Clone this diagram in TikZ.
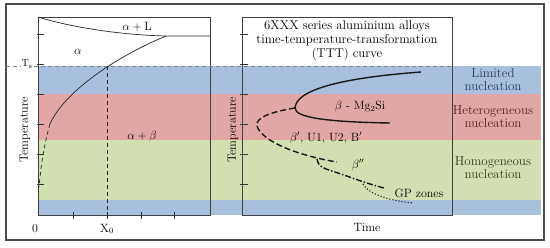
\documentclass[tikz,border=0pt]{standalone}
\usepackage{amsmath,amssymb}
\usetikzlibrary{positioning}

\definecolor{bandblue}{RGB}{168,192,222}
\definecolor{bandred}{RGB}{227,166,167}
\definecolor{bandgreen}{RGB}{210,224,177}
\definecolor{txtblue}{RGB}{40,58,92}
\definecolor{txtred}{RGB}{92,30,30}
\definecolor{txtgreen}{RGB}{58,58,28}

\begin{document}
\begin{tikzpicture}[
  x=1pt, y=-1pt,
  lbl/.style={font=\fontsize{12}{14}\selectfont, inner sep=1pt, text centered},
  zone/.style={font=\fontsize{13}{13}\selectfont, align=center, inner sep=1pt},
  ttl/.style={font=\fontsize{12.8}{14}\selectfont, align=center, inner sep=1pt},
  frame/.style={draw=black!75, line width=0.8pt},
  tick/.style={draw=black!80, line width=0.7pt},
  phase/.style={line width=0.7pt, black!85},
  ttt/.style={line width=1.4pt, black!90},
  tsline/.style={dashed, gray, line width=0.9pt, dash pattern=on 4pt off 3pt}]

\useasboundingbox (0,0) rectangle (550,248);

% Outer frame
\draw[gray!60!black, line width=1.2pt] (6,4) rectangle (544,240);

% Nucleation bands
\fill[bandblue]  (38,66)  rectangle (541,94);
\fill[bandred]   (38,94)  rectangle (541,140);
\fill[bandgreen] (38,140) rectangle (541,200);
\fill[bandblue]  (38,200) rectangle (541,215);

% Panels
\draw[frame] (38,17)  rectangle (210,215);
\draw[frame] (242,17) rectangle (452,215);

% Solvus temperature
\draw[tsline] (6,66) -- (452,66);
\node[fill=white, inner sep=0.5pt] (ts) at (27,64) {T$_{\text{s}}$};

% Ticks
\foreach \ty in {34,64,94,124,154,184} {
  \draw[tick] (37,\ty) -- (44,\ty);
  \draw[tick] (240,\ty) -- (248,\ty);
}
\foreach \tx in {73,107,141,174}
  \draw[tick] (\tx,212) -- (\tx,219);

% Left panel: phase diagram
\draw[phase] (38,17) .. controls (70,27) and (120,35) .. (166,36) -- (210,36);
\draw[phase] (166,36) .. controls (120,55) and (65,90) .. (50,124);
\draw[phase, dashed, dash pattern=on 4pt off 3pt] (50,124) .. controls (44,145) and (41,165) .. (39,187);
\draw[phase, dashed, dash pattern=on 4pt off 3pt] (107,66) -- (107,215);

\node[lbl] (al)  at (137,27)  {$\alpha + \mathrm{L}$};
\node[lbl] (a)   at (78,52)   {$\alpha$};
\node[lbl] (ab)  at (142,137) {$\alpha + \beta$};
\node[lbl, rotate=90] (tl) at (25,130) {Temperature};
\node[lbl] (zero) at (35,229) {0};
\node[lbl] (x0)   at (107,229) {X$_{\text{0}}$};

% Right panel: TTT curve
\node[ttl] (title) at (347,41)
  {6XXX series aluminium alloys\\time-temperature-transformation\\(TTT) curve};
\node[lbl, rotate=90] (tr) at (233,130) {Temperature};
\node[lbl] (time) at (367,227) {Time};

\draw[ttt] (421,72) .. controls (340,78) and (296,90) .. (295,108)
  .. controls (295,118) and (330,122) .. (390,123);
\draw[ttt, dashed, dash pattern=on 6pt off 3pt] (295,108) .. controls (270,112) and (255,118) .. (257,126)
  .. controls (262,142) and (300,156) .. (337,162);
\draw[ttt, dash pattern=on 6pt off 2pt on 1.5pt off 2pt] (317,159) .. controls (318,166) and (322,168) .. (335,172)
  .. controls (350,177) and (365,183) .. (384,188);
\draw[ttt, line width=1.1pt, dotted] (363,184) .. controls (368,193) and (385,200) .. (413,203);

\node[lbl] (bmg)  at (360,107) {$\beta$ - Mg$_2$Si};
\node[lbl] (bp)   at (326,138) {$\beta'$, U1, U2, B$'$};
\node[lbl] (bpp)  at (358,165) {$\beta''$};
\node[lbl] (gp)   at (419,193) {GP zones};

% Right column: nucleation regimes
\node[zone, text=txtblue]  (lim) at (493,80)  {Limited\\nucleation};
\node[zone, text=txtred]   (het) at (493,117) {Heterogeneous\\nucleation};
\node[zone, text=txtgreen] (hom) at (493,168) {Homogeneous\\nucleation};
\end{tikzpicture}
\end{document}
